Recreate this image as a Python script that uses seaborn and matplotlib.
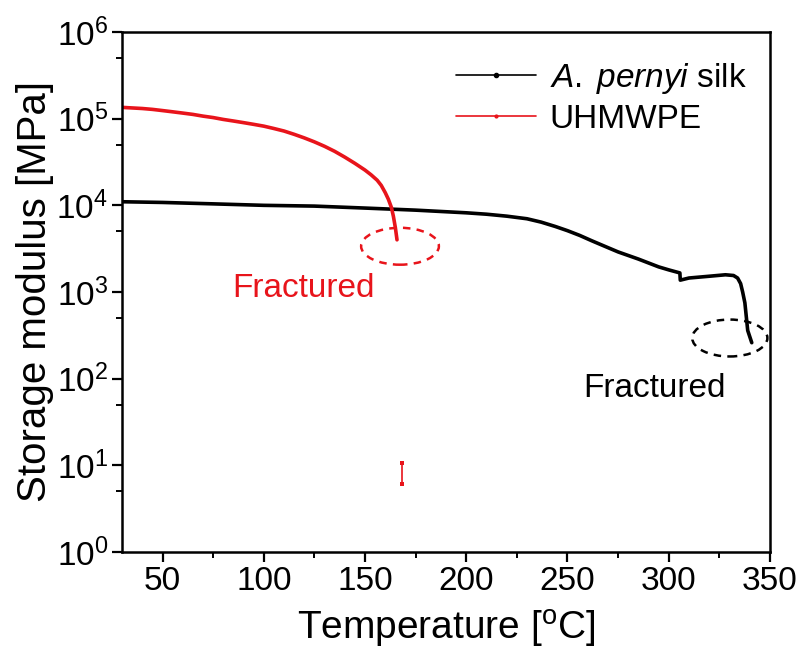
import matplotlib
matplotlib.use("Agg")
import matplotlib.pyplot as plt
import pandas as pd
import seaborn as sns
from matplotlib.lines import Line2D
from matplotlib.patches import Ellipse
from matplotlib.ticker import FixedLocator, MultipleLocator

# UHMWPE storage modulus
uhmwpe_temp = [30, 35, 40, 45, 50, 55, 60, 65, 70, 75, 80, 85, 90, 95, 100,
               105, 110, 115, 120, 125, 130, 135, 140, 145, 150, 153, 156,
               158, 160, 161.5, 163, 164, 165, 165.8]
uhmwpe_mod = [1.35e5, 1.33e5, 1.31e5, 1.28e5, 1.24e5, 1.20e5, 1.16e5, 1.12e5,
              1.07e5, 1.03e5, 9.8e4, 9.4e4, 9.0e4, 8.6e4, 8.2e4, 7.7e4,
              7.2e4, 6.6e4, 6.0e4, 5.4e4, 4.8e4, 4.2e4, 3.6e4, 3.05e4, 2.55e4,
              2.25e4, 1.95e4, 1.7e4, 1.4e4, 1.18e4, 9.5e3, 7.5e3, 5.5e3, 4.0e3]
# stray UHMWPE point pair after fracture
uhmwpe_frag_temp = [168.3, 168.3]
uhmwpe_frag_mod = [10.6, 6.1]

# A. pernyi silk storage modulus
silk_temp = [30, 50, 75, 100, 125, 150, 175, 200, 210, 220, 230, 237, 244, 250,
             256, 262, 268, 275, 285, 295, 300, 305.5, 305.7, 310, 320, 328,
             332, 334, 335.5, 336.5, 337.6, 339, 341]
silk_mod = [1.1e4, 1.08e4, 1.04e4, 1.0e4, 9.8e3, 9.3e3, 8.8e3, 8.2e3, 7.9e3,
            7.5e3, 7.0e3, 6.4e3, 5.7e3, 5.1e3, 4.5e3, 3.9e3, 3.4e3, 2.9e3,
            2.4e3, 1.95e3, 1.8e3, 1.66e3, 1.37e3, 1.45e3, 1.52e3, 1.58e3,
            1.55e3, 1.45e3, 1.25e3, 1.0e3, 7.5e2, 3.6e2, 2.6e2]

x_ticks = [50, 100, 150, 200, 250, 300, 350]
y_ticks = [1e0, 1e1, 1e2, 1e3, 1e4, 1e5, 1e6]
y_tick_labels = ["10$^{0}$", "10$^{1}$", "10$^{2}$", "10$^{3}$",
                 "10$^{4}$", "10$^{5}$", "10$^{6}$"]

sns.set_style("ticks")
plt.rcParams["font.family"] = ["Liberation Sans", "DejaVu Sans"]
plt.rcParams["mathtext.fontset"] = "custom"
plt.rcParams["mathtext.rm"] = "Liberation Sans"
plt.rcParams["mathtext.it"] = "Liberation Sans:italic"
plt.rcParams["mathtext.default"] = "regular"
plt.rcParams["text.color"] = "black"
plt.rcParams["axes.labelcolor"] = "black"
plt.rcParams["xtick.color"] = "black"
plt.rcParams["ytick.color"] = "black"

fig = plt.figure(figsize=(8.05, 6.52), dpi=100)
ax = fig.add_axes([0.1516, 0.1534, 0.8049, 0.7975])

silk = pd.DataFrame({"T": silk_temp, "E": silk_mod})
uh = pd.DataFrame({"T": uhmwpe_temp, "E": uhmwpe_mod})
frag = pd.DataFrame({"T": uhmwpe_frag_temp, "E": uhmwpe_frag_mod})

red = "#e8141b"
sns.lineplot(data=silk, x="T", y="E", color="black", linewidth=2.6,
             estimator=None, sort=False, ax=ax)
sns.lineplot(data=uh, x="T", y="E", color=red, linewidth=2.6,
             estimator=None, sort=False, ax=ax)
sns.lineplot(data=frag, x="T", y="E", color=red, linewidth=1.2,
             marker="s", markersize=3, markeredgewidth=0,
             estimator=None, sort=False, ax=ax)

ax.set_yscale("log")
ax.set_xlim(30, 350)
ax.set_ylim(1, 1e6)
ax.xaxis.set_major_locator(FixedLocator(x_ticks))
ax.xaxis.set_minor_locator(MultipleLocator(25))
ax.yaxis.set_major_locator(FixedLocator(y_ticks))
ax.yaxis.set_minor_locator(FixedLocator([5 * v for v in y_ticks[:-1]]))
ax.set_yticklabels(y_tick_labels)
ax.yaxis.set_minor_formatter(plt.NullFormatter())
ax.tick_params(axis="both", which="major", direction="out", length=7,
               width=1.6, labelsize=24, pad=3)
ax.tick_params(axis="both", which="minor", direction="out", length=4, width=1.4)
for s in ax.spines.values():
    s.set_linewidth(1.8)
    s.set_color("black")

ax.set_xlabel("Temperature [$^{o}$C]", fontsize=28, labelpad=8)
ax.set_ylabel("Storage modulus [MPa]", fontsize=29, labelpad=2)

# fracture annotations
ax.add_patch(Ellipse((0.429, 0.588), 0.12, 0.071, transform=ax.transAxes,
                     fill=False, edgecolor=red, linestyle=(0, (3, 2.5)),
                     linewidth=1.8))
ax.add_patch(Ellipse((0.938, 0.4115), 0.116, 0.071, transform=ax.transAxes,
                     fill=False, edgecolor="black", linestyle=(0, (3, 2.5)),
                     linewidth=1.8, clip_on=False))
ax.text(119.4, 1.11e3, "Fractured", color=red, fontsize=24,
        ha="center", va="center")
ax.text(293.2, 78, "Fractured", color="black", fontsize=24,
        ha="center", va="center")

handles = [
    Line2D([], [], color="black", linewidth=1.2, marker="o", markersize=3),
    Line2D([], [], color=red, linewidth=1.2, marker="o", markersize=2),
]
ax.legend(handles, ["$\\it{A.\\;pernyi}$ silk", "UHMWPE"], loc="upper right",
          bbox_to_anchor=(1.0, 0.99), frameon=False, fontsize=24,
          handlelength=2.4, handletextpad=0.4, labelspacing=0.25,
          borderaxespad=0.3)

fig.savefig("out.png", dpi=100)
